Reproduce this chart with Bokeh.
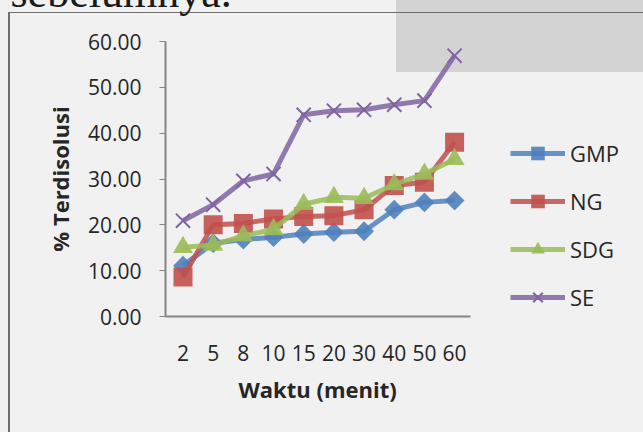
import math

from bokeh.embed import file_html
from bokeh.models import (ColumnDataSource, FixedTicker, Label, Legend,
                          LegendItem, NumeralTickFormatter, Range1d, Title)
from bokeh.plotting import figure
from bokeh.resources import INLINE

# Sampling times (minutes) and % dissolved for each formulation
waktu = ["2", "5", "8", "10", "15", "20", "30", "40", "50", "60"]
gmp = [11.1, 16.0, 16.8, 17.3, 18.0, 18.4, 18.6, 23.3, 24.9, 25.3]
ng = [8.6, 20.0, 20.3, 21.3, 21.8, 22.0, 23.3, 28.6, 29.3, 38.0]
sdg = [15.1, 15.6, 17.6, 19.0, 24.5, 26.0, 25.8, 28.8, 31.1, 34.3]
se = [20.9, 24.4, 29.6, 31.1, 44.0, 44.9, 45.1, 46.2, 47.1, 56.9]
y_ticks = [0, 10, 20, 30, 40, 50, 60]

FONT = "Open Sans"
TEXT = "#262626"
AXIS = "#868686"

# the time points sit at equally spaced category slots
slot = list(range(len(waktu)))
source = ColumnDataSource(dict(slot=slot, GMP=gmp, NG=ng, SDG=sdg, SE=se))

# the frame runs to the right edge so the legend can sit beside the data;
# the canvas is 8px taller and lifted by 8px so the cut-off line of text
# above the chart does not push the frame down
p = figure(
    width=643, height=440,
    x_range=Range1d(-0.58, 15.26), y_range=Range1d(0, 60),
    output_backend="svg", toolbar_location=None,
    min_border_left=165, min_border_right=0,
    min_border_top=49, min_border_bottom=116,
)
p.border_fill_alpha = 0
p.background_fill_alpha = 0
p.outline_line_color = None
p.grid.visible = False

# page tint, the grey block top right and the chart's frame lines
p.styles = {
    "transform": "translateY(-8px)",
    "background": (
        "linear-gradient(#6e6e6e,#6e6e6e) no-repeat 8px 20px / 2px 420px,"
        "linear-gradient(#6e6e6e,#6e6e6e) no-repeat 8px 20px / 635px 1px,"
        "linear-gradient(#d3d3d3,#d3d3d3) no-repeat 396px 0px / 247px 80px,"
        "#f1f1f1"
    ),
}

# axes
p.yaxis.ticker = FixedTicker(ticks=y_ticks)
p.yaxis.formatter = NumeralTickFormatter(format="0.00")
p.yaxis.minor_tick_line_color = None
p.yaxis.major_tick_in = 0
p.yaxis.major_tick_out = 6
p.yaxis.major_tick_line_color = AXIS
p.yaxis.axis_line_color = AXIS
p.yaxis.axis_line_width = 2
p.yaxis.major_label_standoff = 18
p.yaxis.axis_label = "% Terdisolusi"
p.yaxis.axis_label_standoff = 10
p.yaxis.axis_label_text_font = FONT
p.yaxis.axis_label_text_font_size = "22px"
p.yaxis.axis_label_text_font_style = "bold"
p.yaxis.axis_label_text_color = TEXT

p.xaxis.ticker = FixedTicker(ticks=slot)
p.xaxis.major_label_overrides = {i: w for i, w in zip(slot, waktu)}
p.xaxis.bounds = (-0.58, len(waktu) - 0.47)
p.xaxis.major_tick_line_color = None
p.xaxis.minor_tick_line_color = None
p.xaxis.axis_line_color = AXIS
p.xaxis.axis_line_width = 2
p.xaxis.major_label_standoff = 22

for ax in (p.xaxis, p.yaxis):
    ax.major_label_text_font = FONT
    ax.major_label_text_font_size = "21px"
    ax.major_label_text_color = TEXT

# x axis title, centred under the bounded axis line rather than the frame
p.add_layout(Title(
    text="Waktu (menit)", align="left", offset=73, standoff=16,
    text_font=FONT, text_font_size="22px", text_font_style="bold",
    text_color=TEXT,
), "below")

series = [
    ("GMP", "#4f81bd", "square", math.pi / 4, 14),
    ("NG", "#c0504d", "square", 0, 19),
    ("SDG", "#9bbb59", "triangle", 0, 20),
    ("SE", "#8064a2", "x", 0, 20),
]

items = []
for name, color, marker, angle, size in series:
    ln = p.line("slot", name, source=source, line_color=color,
                line_width=5, line_alpha=0.85)
    if marker == "x":
        mk = p.scatter("slot", name, source=source, marker="x", size=size,
                       line_color=color, line_width=2)
    else:
        mk = p.scatter("slot", name, source=source, marker=marker,
                       size=size, angle=angle, fill_color=color,
                       fill_alpha=0.9, line_color=None)
    items.append(LegendItem(label=name, renderers=[ln, mk]))

legend = Legend(
    items=items, location=(345, 2), orientation="vertical",
    glyph_width=55, glyph_height=34, label_height=20, spacing=14,
    padding=0, margin=0, label_standoff=5,
    background_fill_alpha=0, border_line_alpha=0,
    label_text_font=FONT, label_text_font_size="22px",
    label_text_color=TEXT,
)
p.add_layout(legend)

# tail of the paragraph above the chart
p.add_layout(Label(
    x=-155, y=49, x_units="screen", y_units="screen",
    text="sebelumnya.", text_font="Liberation Serif",
    text_font_size="44px", text_baseline="alphabetic", text_color="#1a1a1a",
), "above")

open("out.html", "w").write(file_html(p, INLINE))
